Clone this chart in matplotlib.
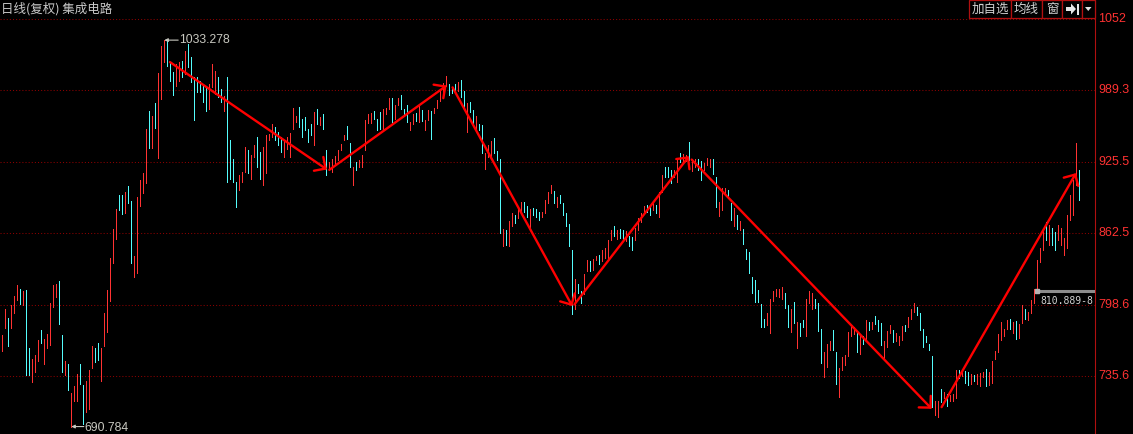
import matplotlib
matplotlib.use("Agg")
import matplotlib.pyplot as plt
from matplotlib.patches import Rectangle, Polygon

# daily bars, one entry per session: high, low, and 1 = up (red) / 0 = down (cyan)
highs = [
    771.7, 795.2, 786.7, 798.7, 806.1, 816.3, 813.1, 811.3, 812.2, 760.2,
    750.5, 754.1, 767.3, 776.1, 768.2, 772.6, 799.9, 816.3, 817.5, 820.2,
    772.0, 748.8, 746.1, 720.6, 727.0, 737.3, 746.1, 727.6, 731.4, 741.1,
    762.3, 760.2, 765.2, 760.8, 791.1, 812.2, 840.1, 865.7, 883.3, 895.9,
    895.9, 898.3, 903.9, 890.7, 842.2, 894.5, 909.2, 915.1, 954.1, 970.9,
    965.6, 977.9, 1003.8, 1028.2, 1033.3, 1032.6, 1013.5, 1005.3, 1012.0, 1013.5,
    1015.0, 1023.8, 1029.6, 1017.9, 1000.3, 1000.3, 997.3, 994.4, 991.5, 994.4,
    1012.0, 1006.1, 1000.3, 990.0, 984.1, 1000.3, 944.4, 928.3, 907.7, 913.6,
    916.5, 938.6, 935.6, 931.2, 940.0, 947.4, 934.2, 938.6, 948.9, 949.8,
    959.1, 956.2, 951.8, 947.4, 944.4, 947.4, 950.9, 973.2, 965.6, 973.8,
    963.5, 965.0, 954.7, 959.1, 969.4, 972.4, 965.0, 968.0, 935.6, 925.4,
    928.3, 930.3, 935.6, 941.5, 948.9, 956.8, 942.2, 921.0, 925.4, 926.9,
    931.3, 962.1, 968.0, 968.6, 970.4, 963.6, 969.5, 972.4, 973.3, 982.1,
    982.1, 975.6, 981.8, 984.2, 972.4, 975.4, 960.7, 968.0, 968.6, 976.8,
    971.5, 962.1, 971.5, 970.9, 973.3, 979.8, 988.6, 995.0, 1001.8, 994.4,
    992.1, 994.4, 995.9, 998.0, 988.0, 977.4, 978.3, 971.5, 965.7, 958.6,
    957.7, 933.3, 940.0, 943.9, 946.9, 935.1, 927.5, 865.8, 865.2, 873.4,
    879.9, 878.4, 884.3, 890.1, 890.1, 886.3, 883.4, 884.3, 883.4, 881.3,
    881.3, 891.6, 898.9, 904.8, 899.8, 894.5, 896.0, 889.2, 880.4, 870.4,
    846.9, 821.7, 816.7, 810.8, 826.4, 838.7, 837.3, 839.3, 842.3, 843.1,
    847.5, 849.0, 856.3, 864.6, 868.1, 865.2, 865.7, 864.6, 863.7, 859.9,
    858.7, 866.6, 875.4, 879.8, 886.3, 887.2, 887.2, 888.7, 887.2, 898.9,
    913.6, 920.4, 921.0, 918.6, 918.0, 928.3, 933.3, 932.1, 931.3, 943.0,
    928.3, 928.3, 927.5, 926.3, 924.5, 929.2, 928.3, 928.3, 911.6, 890.1,
    901.9, 901.9, 900.4, 888.7, 884.3, 878.4, 873.4, 865.8, 848.1, 845.2,
    823.5, 820.5, 811.4, 799.1, 786.4, 791.1, 804.1, 810.8, 812.3, 812.9,
    814.6, 808.8, 798.2, 794.7, 801.4, 783.5, 782.3, 785.3, 803.5, 810.8,
    809.4, 804.1, 800.5, 777.1, 756.5, 763.8, 766.7, 776.4, 756.5, 742.4,
    752.1, 754.1, 774.7, 779.4, 779.4, 774.1, 771.2, 771.2, 785.2, 783.5,
    783.5, 788.8, 785.2, 782.3, 766.7, 775.6, 780.6, 776.4, 774.1, 771.2,
    780.0, 780.6, 788.2, 795.2, 799.9, 797.0, 791.7, 777.6, 770.6, 763.8,
    752.9, 713.0, 713.8, 724.1, 721.2, 719.7, 718.8, 719.7, 741.2, 741.2,
    739.4, 740.3, 739.4, 737.4, 736.5, 737.4, 738.2, 739.4, 741.8, 738.8,
    749.1, 757.9, 772.6, 783.5, 777.6, 785.2, 786.4, 783.5, 784.4, 781.4,
    798.2, 795.2, 792.3, 802.9, 812.9, 838.7, 849.3, 866.9, 872.2, 869.5,
    866.9, 863.4, 869.5, 866.9, 858.0, 878.3, 896.0, 909.2, 941.8, 918.0,
]
lows = [
    757.9, 777.8, 762.3, 777.8, 791.1, 802.8, 799.0, 798.7, 736.4, 736.4,
    730.5, 738.8, 749.0, 765.2, 746.1, 760.2, 763.2, 796.4, 805.5, 781.4,
    739.1, 736.1, 723.5, 690.8, 713.8, 713.2, 728.5, 693.2, 703.5, 705.9,
    742.6, 747.6, 749.6, 731.4, 762.3, 774.6, 801.9, 835.7, 857.2, 882.7,
    878.9, 880.4, 888.6, 835.7, 823.4, 826.9, 886.6, 897.4, 906.8, 937.7,
    937.7, 955.3, 928.9, 981.2, 1013.5, 1010.5, 996.7, 984.7, 992.9, 997.3,
    1000.3, 1003.2, 1009.1, 995.9, 962.1, 987.1, 987.1, 978.2, 970.9, 972.4,
    991.5, 985.6, 982.6, 978.2, 970.9, 907.7, 910.6, 907.7, 885.7, 900.4,
    907.7, 916.5, 915.1, 910.6, 929.8, 920.9, 910.6, 904.8, 915.1, 944.4,
    947.4, 944.4, 940.0, 934.2, 929.8, 937.1, 929.8, 954.7, 960.6, 956.2,
    947.4, 953.3, 943.0, 948.9, 940.0, 959.1, 957.7, 954.7, 913.6, 918.0,
    916.5, 922.4, 926.8, 935.6, 944.4, 946.0, 921.0, 904.8, 918.1, 921.0,
    920.4, 935.7, 959.8, 959.8, 963.6, 953.3, 954.8, 953.3, 968.0, 972.4,
    960.7, 963.6, 975.4, 972.4, 966.5, 960.7, 953.3, 959.2, 961.5, 960.7,
    961.5, 953.3, 962.7, 946.0, 968.6, 973.3, 979.2, 983.3, 993.0, 984.2,
    986.2, 988.6, 988.0, 982.7, 973.9, 951.8, 969.5, 959.2, 954.8, 953.3,
    933.3, 919.2, 929.8, 929.8, 933.3, 926.9, 862.2, 851.1, 852.0, 851.1,
    868.1, 871.0, 875.4, 879.8, 881.3, 876.3, 865.2, 878.4, 876.3, 874.0,
    876.3, 880.4, 888.7, 897.5, 889.2, 885.7, 888.7, 878.4, 868.1, 850.5,
    790.5, 794.6, 809.3, 800.5, 807.9, 828.4, 828.4, 829.9, 838.1, 835.2,
    837.3, 840.2, 840.2, 856.3, 859.3, 856.9, 857.8, 855.8, 854.9, 851.1,
    846.9, 855.8, 865.2, 872.5, 879.8, 881.3, 878.4, 882.8, 879.8, 876.9,
    898.9, 912.2, 912.2, 906.3, 912.2, 907.8, 925.4, 926.3, 926.3, 926.9,
    917.5, 921.0, 918.0, 909.2, 918.0, 922.5, 921.0, 914.5, 885.7, 877.5,
    882.8, 896.9, 895.1, 874.0, 868.1, 865.8, 864.6, 852.8, 839.3, 827.0,
    809.4, 801.1, 801.1, 779.4, 779.4, 780.6, 774.1, 802.0, 806.4, 805.8,
    804.1, 796.1, 779.4, 774.7, 782.3, 760.0, 771.2, 779.4, 771.2, 799.9,
    794.7, 796.1, 775.6, 747.1, 734.4, 743.3, 758.8, 758.8, 728.6, 716.8,
    741.2, 745.3, 753.5, 771.2, 772.6, 756.5, 755.0, 763.8, 768.2, 776.4,
    777.6, 781.4, 775.6, 762.9, 750.0, 761.7, 774.1, 765.3, 766.7, 762.9,
    767.6, 775.6, 779.4, 786.4, 792.3, 789.4, 776.4, 760.9, 765.3, 758.8,
    708.0, 700.6, 699.2, 712.4, 715.9, 709.4, 713.8, 713.0, 715.9, 733.5,
    735.3, 729.4, 727.7, 728.5, 731.5, 728.5, 727.1, 734.4, 726.5, 727.7,
    729.4, 750.6, 757.0, 767.6, 771.2, 777.0, 777.6, 773.5, 768.8, 769.7,
    782.9, 786.4, 785.2, 791.1, 800.5, 810.9, 836.9, 847.5, 856.3, 851.9,
    851.9, 847.5, 856.3, 851.9, 843.1, 849.3, 873.9, 878.3, 904.8, 891.6,
]
rising = (
    "1101110100" "1110111110" "0101110011" "1001111110" "0100111110"
    "1011100011" "0100000001" "1100100001" "1101100111" "1000111110"
    "0000101001" "1111100101" "1111000111" "0110001101" "0110111110"
    "0010010010" "0111000101" "1011001000" "1111010000" "0100110110"
    "1111010010" "0111100101" "1000110110" "1100111001" "1100101000"
    "0000011111" "1001010011" "1000111001" "1111101010" "1000111011"
    "1011100000" "0110101110" "1001011101" "1111110101" "1011111101"
    "0011111110"
)

# price levels on the right scale
grid_levels = [1052, 989.3, 925.5, 862.5, 798.6, 735.6]
grid_labels = ["1052", "989.3", "925.5", "862.5", "798.6", "735.6"]

# hand-drawn trend arrows (bar index, price)
trend_x0 = [55.9, 109.0, 150.1, 190.7, 229.8, 313.1]
trend_y0 = [1013.8, 918.3, 991.4, 799.0, 927.4, 708.0]
trend_x1 = [108.2, 148.1, 190.0, 228.9, 309.8, 357.9]
trend_y1 = [918.6, 993.0, 797.5, 930.4, 706.5, 915.4]

high_bar, high_price = 54, 1033.278
low_bar, low_price = 23, 690.784
last_bar, last_price = 345, 810.889

RED = "#FF3232"
CYAN = "#54FCFC"
GRID = "#8C0000"
FRAME = "#B01010"
GREY = "#C8C8C0"

W, H = 1133, 434
fig = plt.figure(figsize=(W / 100, H / 100), dpi=100, facecolor="black")
ax = fig.add_axes([0, 0, 1095 / W, 1])
ax.set_facecolor("black")

for lvl in grid_levels:
    ax.axhline(lvl, color=GRID, lw=0.75, ls=(0, (1, 2)), zorder=1)

cols = [RED if f == "1" else CYAN for f in rising]
ax.vlines(range(len(highs)), lows, highs, colors=cols, lw=0.6,
          antialiased=False, zorder=2)

for x0, y0, x1, y1 in zip(trend_x0, trend_y0, trend_x1, trend_y1):
    ax.annotate("", xy=(x1, y1), xytext=(x0, y0), textcoords="data",
                arrowprops=dict(arrowstyle="->,head_length=0.5,head_width=0.5",
                                color="#FF0000", lw=1.7, shrinkA=0, shrinkB=0,
                                mutation_scale=12), zorder=3)

xmax = (1095 - 2.3) / 3
ax.set_xlim(-2.3 / 3, xmax)
ax.set_ylim(1052 - 415 * 0.8863, 1052 + 19 * 0.8863)
ax.set_xticks([])
ax.set_yticks([])
for s in ["top", "left", "bottom"]:
    ax.spines[s].set_visible(False)
ax.spines["right"].set_color(FRAME)
ax.spines["right"].set_linewidth(0.8)

for lvl, lab in zip(grid_levels, grid_labels):
    ax.text(1.003, lvl, lab, transform=ax.get_yaxis_transform(), color=RED,
            fontsize=9, family="Liberation Sans", va="center", ha="left",
            clip_on=False)

# max / min markers
ax.annotate("", xy=(high_bar, high_price), xytext=(10, 0), textcoords="offset points",
            arrowprops=dict(arrowstyle="-|>", color=GREY, lw=0.8, shrinkA=0,
                            shrinkB=0, mutation_scale=5), zorder=4)
ax.annotate("%.3f" % high_price, xy=(high_bar, high_price), xytext=(10.5, 0),
            textcoords="offset points", color=GREY, fontsize=8.7,
            family="Liberation Sans", va="center", ha="left")
ax.annotate("", xy=(low_bar, low_price), xytext=(9, 0), textcoords="offset points",
            arrowprops=dict(arrowstyle="-|>", color=GREY, lw=0.8, shrinkA=0,
                            shrinkB=0, mutation_scale=5), zorder=4)
ax.annotate("%.3f" % low_price, xy=(low_bar, low_price), xytext=(9.5, 0),
            textcoords="offset points", color=GREY, fontsize=8.7,
            family="Liberation Sans", va="center_baseline", ha="left")

# latest price tag
ax.plot([last_bar, xmax], [last_price, last_price], color="#8C8C8C", lw=2.2,
        solid_capstyle="butt", zorder=4)
ax.plot(last_bar, last_price, marker="s", ms=2.5, color="#B4B4B4", zorder=5)
ax.annotate("%.3f-8" % last_price, xy=(last_bar, last_price), xytext=(2, -3.5),
            textcoords="offset points", color="#D2D2D2", fontsize=7,
            family="DejaVu Sans Mono", va="top", ha="left")

# header overlay in pixel units
ov = fig.add_axes([0, 0, 1, 1], zorder=10)
ov.set_xlim(0, W)
ov.set_ylim(H, 0)
ov.axis("off")
ov.patch.set_alpha(0)

ov.text(1, 9, "日线(复权) 集成电路", color="#C8C8C8", fontsize=9,
        family=["Noto Sans CJK SC", "DejaVu Sans"], va="center", ha="left")

edges = [969, 1011, 1042, 1062, 1082, 1094.5]
for a, b in zip(edges[:-1], edges[1:]):
    ov.add_patch(Rectangle((a, 0), b - a, 17.5, facecolor="black",
                           edgecolor=FRAME, lw=0.9))
for txt, cx in zip(["加自选", "均线", "窗"], [990, 1026.5, 1052]):
    ov.text(cx, 9, txt, color="#D2D2D2", fontsize=9,
            family=["Noto Sans CJK SC", "DejaVu Sans"], va="center", ha="center")
ov.add_patch(Polygon([(1066, 7), (1071, 7), (1071, 3.5), (1076, 9), (1071, 14.5),
                      (1071, 11), (1066, 11)], closed=True, color="#E6E6E6", lw=0))
ov.add_patch(Rectangle((1076.5, 3.5), 2, 11, color="#E6E6E6", lw=0))
ov.add_patch(Polygon([(1085, 7), (1091.5, 7), (1088.25, 11)], closed=True,
                     color="#E6E6E6", lw=0))

fig.savefig("out.png", dpi=100, facecolor="black")
